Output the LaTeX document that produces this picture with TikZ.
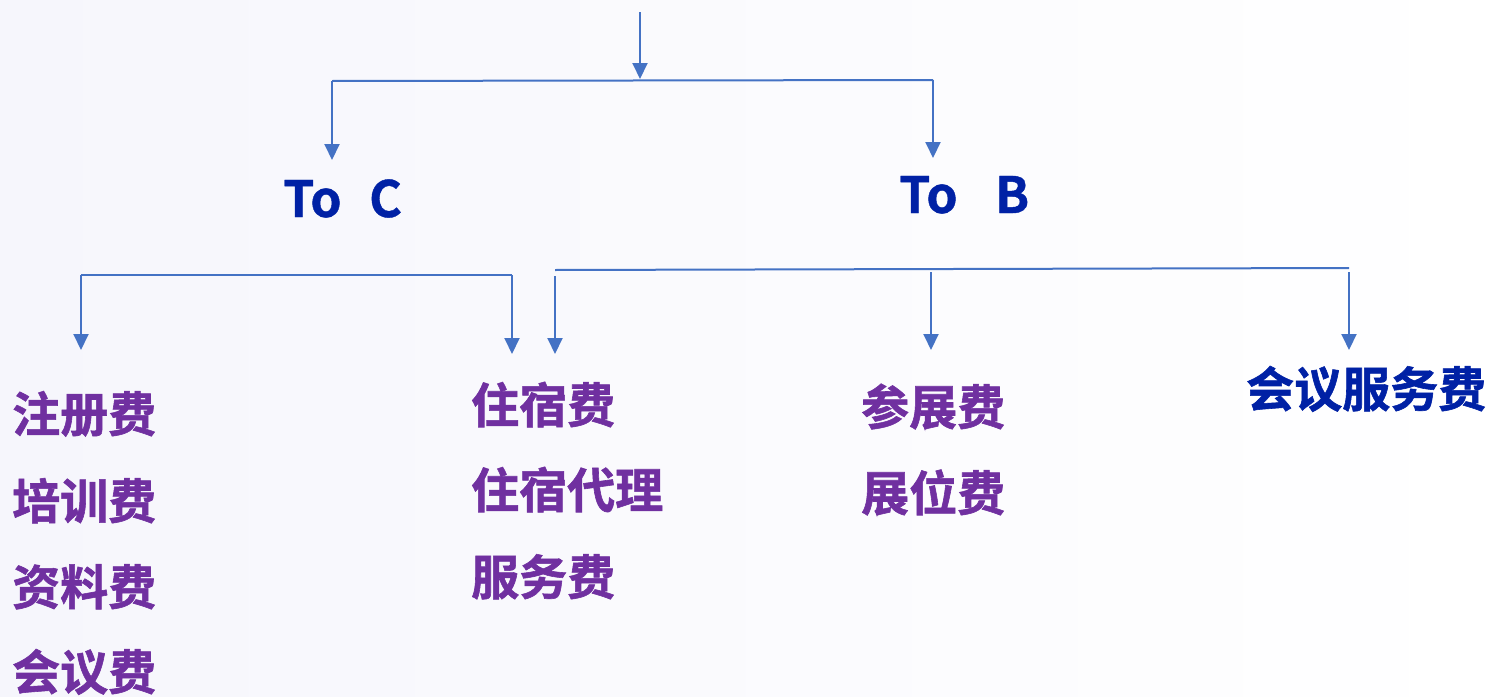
\documentclass[tikz,border=0pt]{standalone}
\usepackage{fontspec}
\setmainfont{Noto Sans CJK SC}[BoldFont={Noto Sans CJK SC Bold}]
\newfontfamily\heavycjk{Noto Sans CJK SC Bold}[FakeBold=1.2]
\newfontfamily\heavylat{Noto Sans CJK SC Bold}[FakeBold=0.8]
\usetikzlibrary{arrows.meta}
\definecolor{linec}{RGB}{68,114,196}
\definecolor{dblue}{RGB}{0,33,165}
\definecolor{purp}{RGB}{112,48,160}
\definecolor{bgl}{RGB}{246,246,252}
\tikzset{
  conn/.style={draw=linec, line width=2pt},
  arr/.style={conn, -{Triangle[width=15pt,length=16pt]}},
  head/.style={font=\fontsize{50}{56}\selectfont\heavylat, text=dblue, inner sep=0pt, anchor=base west},
  item/.style={font=\fontsize{48}{54}\selectfont\heavycjk, text=purp, inner sep=0pt, anchor=base west},
  itemb/.style={item, text=dblue},
}
\begin{document}
\begin{tikzpicture}[x=1pt,y=-1pt]
\shade[left color=bgl, right color=white] (0,0) rectangle (1491,696);
\useasboundingbox (0,0) rectangle (1491,696);
% headings
\node[head] (toc) at (283,217) {To\hspace{0.55em}C};
\node[head] (tob) at (899,213) {To\hspace{0.75em}B};
% items
\node[item] (zc) at (12,432) {注册费};
\node[item] (px) at (12,519) {培训费};
\node[item] (zl) at (12,605) {资料费};
\node[item] (hy) at (12,690) {会议费};
\node[item] (zs) at (471,423) {住宿费};
\node[item] (zd) at (471,508) {住宿代理};
\node[item] (fw) at (471,595) {服务费};
\node[item] (cz) at (861,425) {参展费};
\node[item] (zw) at (861,511) {展位费};
\node[itemb] (hf) at (1246,407) {会议服务费};
% top level
\coordinate (top) at (640,12);
\coordinate (topj) at (640,79);
\coordinate (barL) at (332,81);
\coordinate (barR) at (933,80);
\coordinate (tipC) at (332,160);
\coordinate (tipB) at (933,158);
\draw[arr] (top) -- (topj);
\draw[conn] (barL) -- (barR);
\draw[arr] (barL) -- (tipC);
\draw[arr] (barR) -- (tipB);
% To C branch
\coordinate (cL) at (81,275);
\coordinate (cR) at (512,275);
\coordinate (tipZC) at (81,350);
\coordinate (tipZS) at (512,354);
\draw[conn] (cL) -- (cR);
\draw[arr] (cL) -- (tipZC);
\draw[arr] (cR) -- (tipZS);
% To B branch
\coordinate (bL) at (555,270);
\coordinate (bR) at (1349,268);
\coordinate (bLs) at (555,276);
\coordinate (bMs) at (931,272);
\coordinate (bRs) at (1349,272);
\coordinate (tipBL) at (555,354);
\coordinate (tipBM) at (931,350);
\coordinate (tipBR) at (1349,350);
\draw[conn] (bL) -- (bR);
\draw[arr] (bLs) -- (tipBL);
\draw[arr] (bMs) -- (tipBM);
\draw[arr] (bRs) -- (tipBR);
\end{tikzpicture}
\end{document}
